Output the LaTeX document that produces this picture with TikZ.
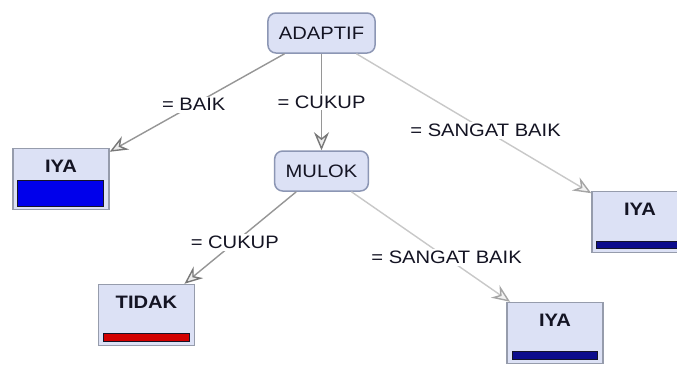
\documentclass[tikz,border=0pt]{standalone}
\usepackage{fontspec}
\setmainfont{Liberation Sans}[FakeStretch=1.12]
\usetikzlibrary{arrows.meta}

\definecolor{nodefill}{RGB}{220,225,245}
\definecolor{nodeline}{RGB}{140,150,180}
\definecolor{leafline}{RGB}{150,156,172}
\definecolor{txt}{RGB}{20,20,35}
\definecolor{edgedark}{RGB}{150,150,150}
\definecolor{edgelight}{RGB}{200,200,200}
\definecolor{tipdark}{RGB}{120,120,120}
\definecolor{tiplight}{RGB}{165,165,165}
\definecolor{barblue}{RGB}{0,0,235}
\definecolor{bardark}{RGB}{12,12,140}
\definecolor{barred}{RGB}{210,0,0}
\definecolor{barline}{RGB}{20,20,40}

\begin{document}
\begin{tikzpicture}[x=1pt, y=-1pt,
  font=\fontsize{18}{21}\selectfont,
  decision/.style={draw=nodeline, line width=1.5pt, fill=nodefill,
    rounded corners=8pt, minimum height=40pt, inner xsep=11pt, text=txt},
  leaf/.style={draw=leafline, line width=1.5pt, fill=nodefill,
    minimum width=96pt, inner xsep=0pt, inner ysep=10.5pt,
    text height=13pt, text depth=27pt, text=txt,
    font=\fontsize{18}{21}\selectfont\bfseries},
  edge/.style={draw=edgedark, line width=1.4pt,
    -{Stealth[length=18pt, width=15pt, inset=6pt, color=tipdark, fill=gray!15]}},
  lightedge/.style={draw=edgelight, line width=1.4pt,
    -{Stealth[length=18pt, width=15pt, inset=6pt, color=tiplight, fill=gray!10]}},
  lbl/.style={fill=white, text=txt, inner sep=2pt},
  bar/.style={draw=barline, line width=1pt}]

  % canvas
  \fill[white] (0,0) rectangle (677,365);
  \useasboundingbox (0,0) rectangle (677,365);

  % decision nodes
  \node[decision] (adaptif) at (321.5,33)  {ADAPTIF};
  \node[decision] (mulok)   at (321.5,171) {MULOK};

  % leaves
  \node[leaf] (iya1)  at (61,179)    {IYA};
  \node[leaf] (iya2)  at (640,222)   {IYA};
  \node[leaf] (tidak) at (146.5,315) {TIDAK};
  \node[leaf] (iya3)  at (555,333)   {IYA};

  % class bars inside the leaves
  \draw[bar, fill=barblue] ([xshift=5pt, yshift=4pt]iya1.south west)
    rectangle ([xshift=-6pt, yshift=30pt]iya1.south east);
  \draw[bar, fill=bardark] ([xshift=5pt, yshift=5pt]iya2.south west)
    rectangle ([xshift=-6pt, yshift=12pt]iya2.south east);
  \draw[bar, fill=barred] ([xshift=6pt, yshift=5pt]tidak.south west)
    rectangle ([xshift=-6pt, yshift=13pt]tidak.south east);
  \draw[bar, fill=bardark] ([xshift=6pt, yshift=5pt]iya3.south west)
    rectangle ([xshift=-6pt, yshift=13pt]iya3.south east);

  % branches
  \draw[edge] (adaptif) -- node[lbl, pos=0.52] {= BAIK} (iya1);
  \draw[edge] (adaptif) -- node[lbl, pos=0.5] {= CUKUP} (mulok);
  \draw[lightedge] (adaptif) -- node[lbl, pos=0.55] {= SANGAT BAIK} (iya2);
  \draw[edge] (mulok) -- node[lbl, pos=0.55] {= CUKUP} (tidak);
  \draw[lightedge] (mulok) -- node[lbl, pos=0.6] {= SANGAT BAIK} (iya3);
\end{tikzpicture}
\end{document}
